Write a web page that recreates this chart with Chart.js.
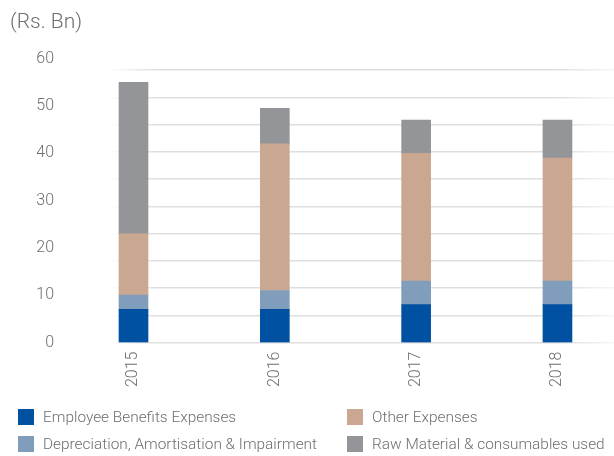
<!DOCTYPE html>
<html>
<head>
<meta charset="utf-8">
<script src="https://cdn.jsdelivr.net/npm/chart.js@4"></script>
<style>
  body { margin: 0; background: #fff; }
  #wrap { position: relative; width: 614px; height: 456px; }
  #legend {
    position: absolute; left: 18px; top: 403px;
    display: grid; grid-template-rows: repeat(2, 27px); grid-auto-flow: column;
    grid-template-columns: 329px 267px;
    font-family: Roboto, sans-serif; font-weight: 300; font-size: 15.4px; color: #6d6e71;
  }
  #legend div { display: flex; align-items: center; white-space: nowrap; }
  #legend span.box { width: 16px; height: 16px; margin-right: 9px; flex: none; }
</style>
</head>
<body>
<div id="wrap">
  <canvas id="costChart" width="614" height="456"></canvas>
  <div id="legend"></div>
</div>
<script>
const years = [2015, 2016, 2017, 2018];
const employeeBenefits = [7, 7, 8, 8];
const depreciation = [3, 4, 5, 5];
const otherExpenses = [13, 31, 27, 26];
const rawMaterial = [32, 7.5, 7, 8];
const yTicks = [0, 10, 20, 30, 40, 50, 60];

const seriesNames = [
    'Employee Benefits Expenses',
    'Depreciation, Amortisation & Impairment',
    'Other Expenses',
    'Raw Material & consumables used'
];
const seriesColors = ['#0051a2', '#809dbb', '#caa790', '#939598'];

const textColor = '#6d6e71';
const font = { family: 'Roboto', weight: 300, size: 16 };

// faded grey gridlines, fading in at the left edge
function gridColor(context) {
    const chart = context.chart;
    const area = chart.chartArea;
    if (!area) return '#dedede';
    const g = chart.ctx.createLinearGradient(area.left, 0, area.right, 0);
    g.addColorStop(0, 'rgba(222,222,222,0)');
    g.addColorStop(0.1, 'rgba(222,222,222,1)');
    g.addColorStop(0.88, 'rgba(222,222,222,1)');
    g.addColorStop(1, 'rgba(222,222,222,0.3)');
    return g;
}

const ctx = document.getElementById('costChart').getContext('2d');
const costChart = new Chart(ctx, {
    type: 'bar',
    data: {
        labels: years,
        datasets: [employeeBenefits, depreciation, otherExpenses, rawMaterial].map(function(values, i) {
            return {
                label: seriesNames[i],
                data: values,
                backgroundColor: seriesColors[i],
                barThickness: 29,
                yAxisID: 'y'
            };
        })
    },
    options: {
        responsive: false,
        animation: false,
        layout: { padding: { left: 10, right: 0, top: 4, bottom: 60 } },
        plugins: {
            legend: { display: false },
            tooltip: { enabled: false },
            title: {
                display: true,
                text: '(Rs. Bn)',
                align: 'start',
                color: textColor,
                font: { family: 'Roboto', weight: 300, size: 21 },
                padding: { top: 6, bottom: 23.5 }
            }
        },
        scales: {
            x: {
                type: 'linear',
                stacked: true,
                offset: false,
                min: 2014.8125,
                max: 2018.4,
                grid: { display: false, drawTicks: false, offset: false },
                border: { display: false },
                ticks: {
                    stepSize: 1,
                    includeBounds: false,
                    autoSkip: false,
                    minRotation: 90,
                    maxRotation: 90,
                    padding: 9,
                    color: textColor,
                    font: font,
                    callback: function(v) { return String(v); }
                }
            },
            y: {
                stacked: true,
                min: 0,
                max: 60,
                position: 'left',
                afterFit: function(scale) {
                    scale.width = 97;
                    // the big tick padding should not push the plot area down
                    scale.paddingTop = 10;
                    scale.paddingBottom = 10;
                },
                afterBuildTicks: function(scale) {
                    scale.ticks = yTicks.map(function(v) { return { value: v }; });
                },
                grid: { display: false, drawTicks: false },
                border: { display: false },
                ticks: { padding: 53, color: textColor, font: font }
            },
            g: {
                position: 'left',
                min: 0,
                max: 60 / 5.76,
                afterFit: function(scale) { scale.width = 0; },
                grid: { color: gridColor, lineWidth: 1.5, drawTicks: false },
                border: { display: false },
                ticks: { display: false, stepSize: 1, includeBounds: false }
            }
        }
    }
});

// html legend: two columns, filled column by column
const legendEl = document.getElementById('legend');
[0, 1, 2, 3].forEach(function(i) {
    const ds = costChart.data.datasets[i];
    const item = document.createElement('div');
    item.innerHTML = '<span class="box" style="background:' + ds.backgroundColor + '"></span>' + ds.label;
    legendEl.appendChild(item);
});
</script>
</body>
</html>
